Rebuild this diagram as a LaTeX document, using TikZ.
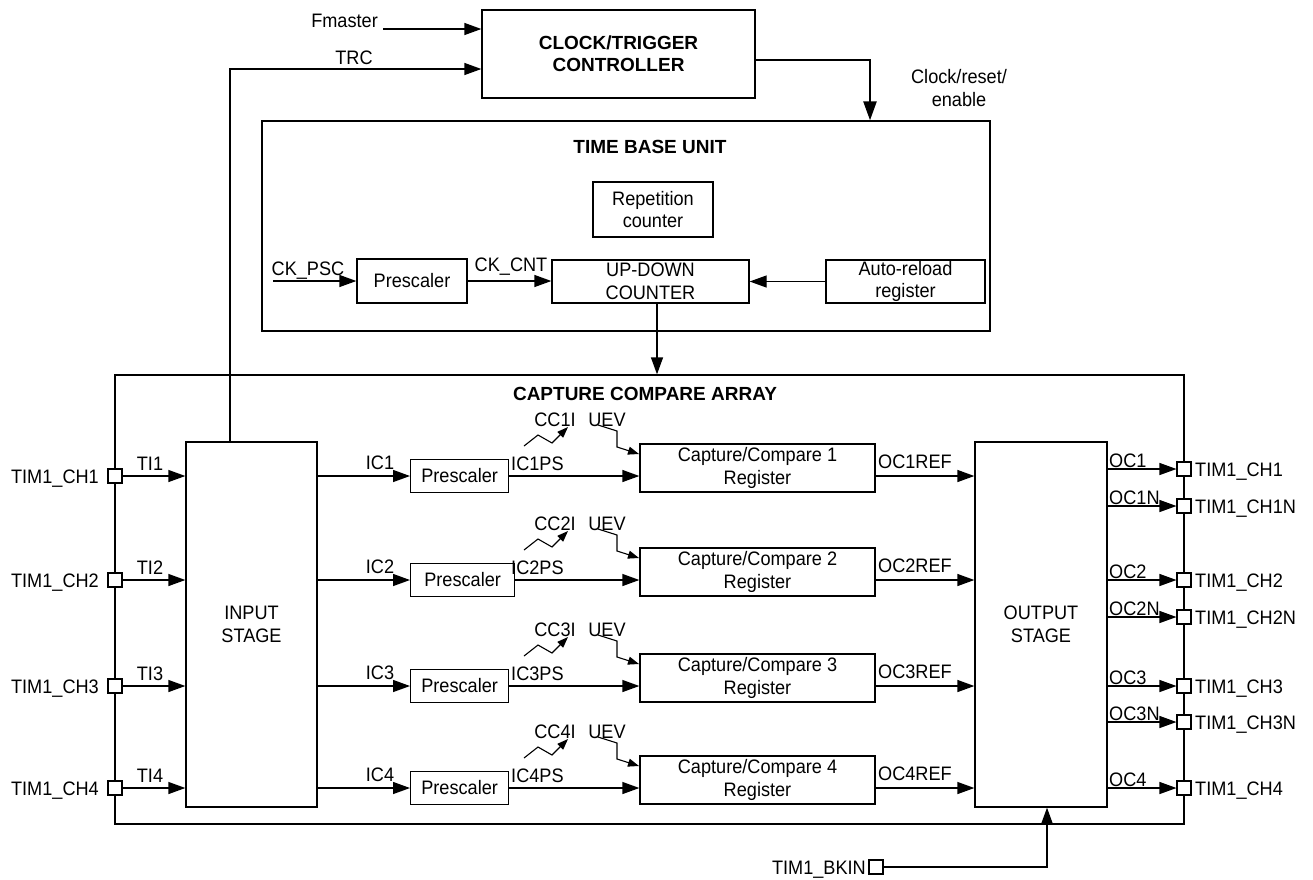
\documentclass[tikz,border=0pt]{standalone}
\usepackage{fontspec}
\setmainfont[FakeStretch=0.93, BoldFeatures={FakeStretch=1.0}]{Liberation Sans}
\usetikzlibrary{arrows.meta}
\begin{document}
\begin{tikzpicture}[x=1pt,y=-1pt,
  font=\fontsize{19.5}{22.5}\selectfont,
  bf/.style={font=\fontsize{19}{22}\selectfont\bfseries},
  box/.style={draw, line width=1.3pt, align=center, inner sep=0pt},
  lbl/.style={inner sep=0pt, align=center},
  arr/.style={line width=1.3pt, -{Triangle[length=17pt,width=12pt]}},
  sarr/.style={line width=1.1pt, -{Triangle[length=11pt,width=8pt]}},
  pinbox/.style={draw, fill=white, line width=1.1pt, minimum size=14pt, inner sep=0pt},
]
\useasboundingbox (0,0) rectangle (1313,879);

% ---- top controller ----
\node[box, bf, minimum width=273, minimum height=88] (ctrl) at (618.5,54) {CLOCK/TRIGGER\\CONTROLLER};
\coordinate (fm) at (383,29);
\draw[arr] (fm) -- (fm -| ctrl.west);
\node[lbl, anchor=base east] (fmlbl) at (378,27) {Fmaster};

% ---- time base unit ----
\node[box, minimum width=728, minimum height=210] (tbu) at (626,226) {};
\node[lbl, bf, anchor=base] (tbulbl) at (650,153) {TIME BASE UNIT};
\node[box, minimum width=120, minimum height=55] (rep) at (653,209.5) {Repetition\\counter};
\node[box, minimum width=110, minimum height=44] (tbpsc) at (412,281) {Prescaler};
\node[box, minimum width=197, minimum height=43] (cnt) at (650.5,281.5) {UP-DOWN\\COUNTER};
\node[box, minimum width=159, minimum height=43] (arld) at (905.5,281.5) {Auto-reload\\register};
\coordinate (ckin) at (273,281);
\draw[arr] (ckin) -- (ckin -| tbpsc.west);
\node[lbl, anchor=base] (ckpsc) at (308,275) {CK\_PSC};
\draw[arr] (tbpsc.east) -- (tbpsc.east -| cnt.west);
\node[lbl, anchor=base] (ckcnt) at (511,271) {CK\_CNT};
\draw[arr] (arld.west) -- (arld.west -| cnt.east);

% clock/reset/enable
\coordinate (clkx) at (870,0);
\draw[line width=2.4pt, -{Triangle[length=19pt,width=13pt]}] ([yshift=-6pt]ctrl.east) -| (clkx |- tbu.north);
\node[lbl] (clklbl) at (959,88) {Clock/reset/\\enable};

% ---- capture compare array ----
\node[box, minimum width=1069, minimum height=449] (cca) at (649.5,599.5) {};
\node[lbl, bf, anchor=base] (ccalbl) at (645,400) {CAPTURE COMPARE ARRAY};
\coordinate (cx) at (657,0);
\draw[arr] (cx |- cnt.south) -- (cx |- cca.north);

\node[box, minimum width=131, minimum height=365] (ins) at (251.5,624.5) {INPUT\\STAGE};
\node[box, minimum width=132, minimum height=365] (outs) at (1041,624.5) {OUTPUT\\STAGE};

% TRC
\coordinate (trcx) at (230,69);
\draw[arr] (trcx |- ins.north) -- (trcx) -- (trcx -| ctrl.west);
\node[lbl, anchor=base] (trclbl) at (354,64) {TRC};

% channel rows
\foreach \i/\r/\pw in {1/476/98, 2/580/104, 3/686/98, 4/788/98}{
  \node[box, minimum width=\pw, minimum height=33, anchor=west] (psc\i) at (410,\r) {Prescaler};
  \node[box, minimum width=235, minimum height=48] (ccr\i) at (757.5,\r-8) {Capture/Compare \i\\Register};
  \node[pinbox] (lp\i) at (115,\r) {};
  \node[lbl, anchor=base east] (lpl\i) at (99,\r+7) {TIM1\_CH\i};
  \draw[arr] (lp\i.east) -- (lp\i.east -| ins.west);
  \node[lbl, anchor=base] (til\i) at (150,\r-6) {TI\i};
  \draw[arr] (psc\i.west -| ins.east) -- (psc\i.west);
  \node[lbl, anchor=base] (icl\i) at (380,\r-7) {IC\i};
  \draw[arr] (psc\i.east) -- (psc\i.east -| ccr\i.west);
  \node[lbl, anchor=base west] (icps\i) at (511,\r-6) {IC\i PS};
  \draw[arr] (psc\i.east -| ccr\i.east) -- (psc\i.east -| outs.west);
  \node[lbl, anchor=base west] (ocr\i) at (878,\r-8) {OC\i REF};
  \node[lbl, anchor=base] (cci\i) at (555,\r-50) {CC\i I};
  \node[lbl, anchor=base] (uev\i) at (607,\r-50) {UEV};
  \draw[sarr] (524,\r-30) -- (538,\r-41) -- (552,\r-33) -- (568,\r-49);
  \draw[sarr] (598,\r-51) -- (617,\r-45) -- (617,\r-29) -- (639,\r-22);
}

% output pins
\foreach \s/\py in {1/469, 1N/506, 2/580, 2N/617, 3/686, 3N/722, 4/788}{
  \node[pinbox] (rp\s) at (1184,\py) {};
  \draw[arr] (rp\s.west -| outs.east) -- (rp\s.west);
  \node[lbl, anchor=base west] (ocl\s) at (1109,\py-2) {OC\s};
  \node[lbl, anchor=base west] (rpl\s) at (1195,\py+7) {TIM1\_CH\s};
}

% break input
\node[pinbox] (bk) at (876,867) {};
\node[lbl, anchor=base east] (bklbl) at (866,874) {TIM1\_BKIN};
\coordinate (bkx) at (1047,0);
\draw[arr] (bk.east) -| (bkx |- outs.south);
\end{tikzpicture}
\end{document}
